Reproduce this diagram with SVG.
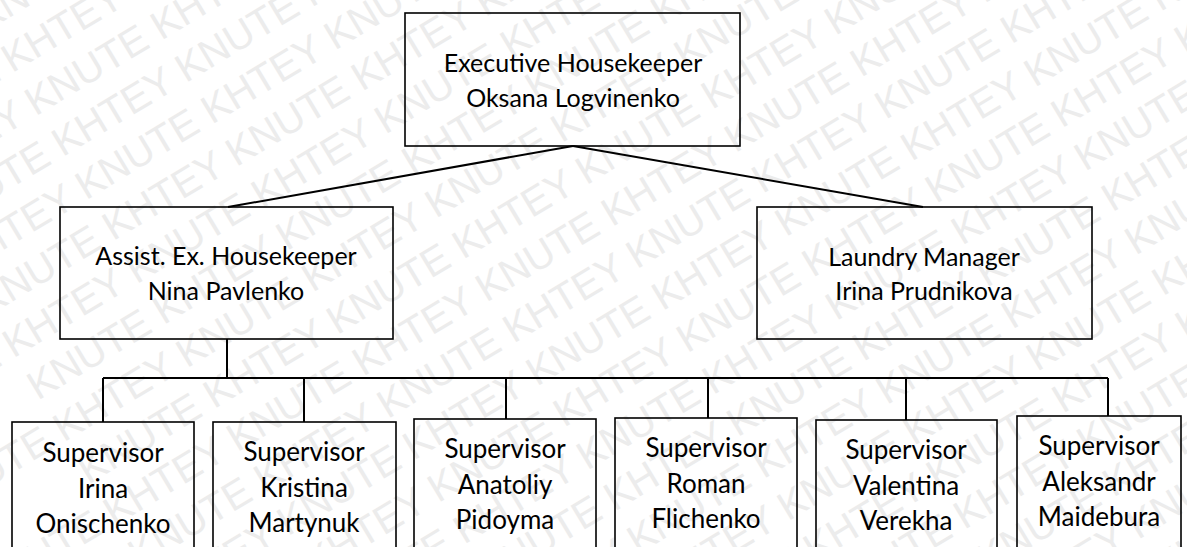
<svg xmlns="http://www.w3.org/2000/svg" width="1187" height="547" viewBox="0 0 1187 547">
<style>
.wm{font-family:"Liberation Sans",Arial,sans-serif;font-size:40px;fill:#ececec}
.box{fill:none;stroke:#000;stroke-width:1.6}
.lbl{font-family:Lato,"Open Sans",sans-serif;font-size:25px;fill:#000;text-anchor:middle}
.sup{font-size:26px}
.con{fill:none;stroke:#000;stroke-width:2}
</style>
<rect width="1187" height="547" fill="#fff"/>
<g id="watermark" transform="rotate(-31)">
<text class="wm" x="-320" y="20">KNUTE KHTEY KNUTE KHTEY KNUTE KHTEY KNUTE KHTEY KNUTE KHTEY</text>
<text class="wm" x="-174" y="69">KNUTE KHTEY KNUTE KHTEY KNUTE KHTEY KNUTE KHTEY KNUTE KHTEY</text>
<text class="wm" x="-320" y="118">KNUTE KHTEY KNUTE KHTEY KNUTE KHTEY KNUTE KHTEY KNUTE KHTEY</text>
<text class="wm" x="-174" y="167">KNUTE KHTEY KNUTE KHTEY KNUTE KHTEY KNUTE KHTEY KNUTE KHTEY</text>
<text class="wm" x="-320" y="216">KNUTE KHTEY KNUTE KHTEY KNUTE KHTEY KNUTE KHTEY KNUTE KHTEY</text>
<text class="wm" x="-174" y="265">KNUTE KHTEY KNUTE KHTEY KNUTE KHTEY KNUTE KHTEY KNUTE KHTEY</text>
<text class="wm" x="-320" y="314">KNUTE KHTEY KNUTE KHTEY KNUTE KHTEY KNUTE KHTEY KNUTE KHTEY</text>
<text class="wm" x="-174" y="363">KNUTE KHTEY KNUTE KHTEY KNUTE KHTEY KNUTE KHTEY KNUTE KHTEY</text>
<text class="wm" x="-320" y="412">KNUTE KHTEY KNUTE KHTEY KNUTE KHTEY KNUTE KHTEY KNUTE KHTEY</text>
<text class="wm" x="-174" y="461">KNUTE KHTEY KNUTE KHTEY KNUTE KHTEY KNUTE KHTEY KNUTE KHTEY</text>
<text class="wm" x="-320" y="510">KNUTE KHTEY KNUTE KHTEY KNUTE KHTEY KNUTE KHTEY KNUTE KHTEY</text>
<text class="wm" x="-174" y="559">KNUTE KHTEY KNUTE KHTEY KNUTE KHTEY KNUTE KHTEY KNUTE KHTEY</text>
<text class="wm" x="-320" y="608">KNUTE KHTEY KNUTE KHTEY KNUTE KHTEY KNUTE KHTEY KNUTE KHTEY</text>
<text class="wm" x="-174" y="657">KNUTE KHTEY KNUTE KHTEY KNUTE KHTEY KNUTE KHTEY KNUTE KHTEY</text>
<text class="wm" x="-320" y="706">KNUTE KHTEY KNUTE KHTEY KNUTE KHTEY KNUTE KHTEY KNUTE KHTEY</text>
<text class="wm" x="-174" y="755">KNUTE KHTEY KNUTE KHTEY KNUTE KHTEY KNUTE KHTEY KNUTE KHTEY</text>
<text class="wm" x="-320" y="804">KNUTE KHTEY KNUTE KHTEY KNUTE KHTEY KNUTE KHTEY KNUTE KHTEY</text>
<text class="wm" x="-174" y="853">KNUTE KHTEY KNUTE KHTEY KNUTE KHTEY KNUTE KHTEY KNUTE KHTEY</text>
<text class="wm" x="-320" y="902">KNUTE KHTEY KNUTE KHTEY KNUTE KHTEY KNUTE KHTEY KNUTE KHTEY</text>
<text class="wm" x="-174" y="951">KNUTE KHTEY KNUTE KHTEY KNUTE KHTEY KNUTE KHTEY KNUTE KHTEY</text>
<text class="wm" x="-320" y="1000">KNUTE KHTEY KNUTE KHTEY KNUTE KHTEY KNUTE KHTEY KNUTE KHTEY</text>
<text class="wm" x="-174" y="1049">KNUTE KHTEY KNUTE KHTEY KNUTE KHTEY KNUTE KHTEY KNUTE KHTEY</text>
<text class="wm" x="-320" y="1098">KNUTE KHTEY KNUTE KHTEY KNUTE KHTEY KNUTE KHTEY KNUTE KHTEY</text>
</g>
<g id="connectors">
<path class="con" d="M573,146 L228,207"/>
<path class="con" d="M573,146 L923,207"/>
<path class="con" d="M227,339 V378"/>
<path class="con" d="M103,378 H1108"/>
<path class="con" d="M103,378 V422"/>
<path class="con" d="M304,378 V422"/>
<path class="con" d="M506,378 V419"/>
<path class="con" d="M708,378 V418"/>
<path class="con" d="M906,378 V420"/>
<path class="con" d="M1108,378 V416"/>
</g>
<g id="exec">
<rect class="box" x="405" y="13" width="335" height="133"/>
<text class="lbl" x="573" y="72">Executive Housekeeper</text>
<text class="lbl" x="573" y="107">Oksana Logvinenko</text>
</g>
<g id="assist">
<rect class="box" x="60" y="207" width="333" height="132"/>
<text class="lbl" x="226" y="265">Assist. Ex. Housekeeper</text>
<text class="lbl" x="226" y="300">Nina Pavlenko</text>
</g>
<g id="laundry">
<rect class="box" x="757" y="207" width="335" height="132"/>
<text class="lbl" x="924" y="266">Laundry Manager</text>
<text class="lbl" x="924" y="300">Irina Prudnikova</text>
</g>
<g id="sup1">
<rect class="box" x="12" y="422" width="182" height="150"/>
<text class="lbl sup" x="103" y="462">Supervisor</text>
<text class="lbl sup" x="103" y="498">Irina</text>
<text class="lbl sup" x="103" y="533">Onischenko</text>
</g>
<g id="sup2">
<rect class="box" x="213" y="422" width="183" height="150"/>
<text class="lbl sup" x="304" y="461">Supervisor</text>
<text class="lbl sup" x="304" y="497">Kristina</text>
<text class="lbl sup" x="304" y="532">Martynuk</text>
</g>
<g id="sup3">
<rect class="box" x="414" y="419" width="182" height="150"/>
<text class="lbl sup" x="505" y="458">Supervisor</text>
<text class="lbl sup" x="505" y="494">Anatoliy</text>
<text class="lbl sup" x="505" y="529">Pidoyma</text>
</g>
<g id="sup4">
<rect class="box" x="615" y="418" width="182" height="150"/>
<text class="lbl sup" x="706" y="457">Supervisor</text>
<text class="lbl sup" x="706" y="493">Roman</text>
<text class="lbl sup" x="706" y="528">Flichenko</text>
</g>
<g id="sup5">
<rect class="box" x="816" y="420" width="181" height="150"/>
<text class="lbl sup" x="906" y="459">Supervisor</text>
<text class="lbl sup" x="906" y="495">Valentina</text>
<text class="lbl sup" x="906" y="530">Verekha</text>
</g>
<g id="sup6">
<rect class="box" x="1017" y="416" width="164" height="150"/>
<text class="lbl sup" x="1099" y="455">Supervisor</text>
<text class="lbl sup" x="1099" y="491">Aleksandr</text>
<text class="lbl sup" x="1099" y="526">Maidebura</text>
</g>
</svg>
